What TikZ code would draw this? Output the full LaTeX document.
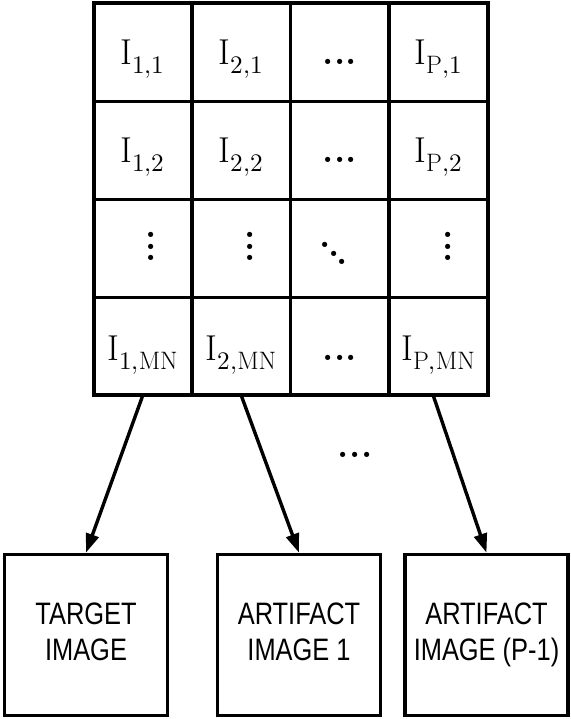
\documentclass[tikz,border=0pt]{standalone}
\usepackage{fontspec}
\usepackage{unicode-math}
\usepackage{tikz}
\usetikzlibrary{arrows.meta, shapes, positioning}
\newfontfamily\boxfont[FakeStretch=0.82]{Liberation Sans}
\newcommand{\celldots}{{\bfseries.\kern0.5pt.\kern0.5pt.}}
\newcommand{\cellvdots}{\vbox{\bfseries\baselineskip=11.5pt \lineskiplimit=0pt \hbox{.}\hbox{.}\hbox{.}}}
\newcommand{\cellddots}{{\bfseries\raisebox{13pt}{.}\kern-3pt\raisebox{4.5pt}{.}\kern-3pt\raisebox{-4pt}{.}}}
\tikzset{gridcell/.style={rectangle, draw=black, line width=3.2pt, minimum width=98.5pt, minimum height=98pt, inner sep=0pt, outer sep=0pt},imagebox/.style={rectangle, draw=black, line width=3.6pt, minimum width=163pt, minimum height=161pt, inner sep=0pt, align=center, font=\boxfont\fontsize{31}{36}\selectfont}}

\begin{document}
\begin{tikzpicture}[
        x=1pt, y=1pt,
        line join=miter,
        celllabel/.style={anchor=base, inner sep=0pt, font=\fontsize{36}{40}\selectfont},
        maparrow/.style={-{Triangle[length=19pt, width=13pt]}, line width=3.4pt}
    ]
        \useasboundingbox (0,0) rectangle (570,719);
        % Grid
        \foreach \i in {1,...,4} {
            \foreach \j in {1,...,4} {
                \node[gridcell] (c-\i-\j) at ({93.5+98.5*(\i-0.5)}, {715.5-98*(\j-0.5)}) {};
            }
        }
        \draw[line width=4pt] (c-1-1.north west) rectangle (c-4-4.south east);
        % Cell labels
        \foreach \i/\j/\txt/\dx/\dy in {
            1/1/{$\mathrm{I}_{1,1}$}/0/0,
            2/1/{$\mathrm{I}_{2,1}$}/0/0,
            3/1/{\celldots}/0/0,
            4/1/{$\mathrm{I}_{\mathrm{P},1}$}/0/0,
            1/2/{$\mathrm{I}_{1,2}$}/0/0,
            2/2/{$\mathrm{I}_{2,2}$}/0/0,
            3/2/{\celldots}/0/0,
            4/2/{$\mathrm{I}_{\mathrm{P},2}$}/0/0,
            1/3/{\cellvdots}/8.5/0,
            2/3/{\cellvdots}/8.5/0,
            3/3/{\cellddots}/-6/0,
            4/3/{\cellvdots}/9.5/0,
            1/4/{$\mathrm{I}_{1,\mathrm{MN}}$}/0/-1.5,
            2/4/{$\mathrm{I}_{2,\mathrm{MN}}$}/0/-1.5,
            3/4/{\celldots}/0/-1.5,
            4/4/{$\mathrm{I}_{\mathrm{P},\mathrm{MN}}$}/0/-1.5} {
            \node[celllabel] (lbl-\i-\j) at ([xshift=\dx pt, yshift={\dy pt-12.5pt}]c-\i-\j.center) {\txt};
        }
        % Images
        \node[imagebox] (target) at (86, 84) {TARGET\strut\\IMAGE\strut};
        \node[imagebox] (artifactone) at (299, 84) {ARTIFACT\strut\\IMAGE 1\strut};
        \node[imagebox] (artifactlast) at (486.5, 84) {ARTIFACT\strut\\IMAGE (P-1)\strut};
        % Arrows
        \draw[maparrow] (c-1-4.south) -- (target.north);
        \draw[maparrow] (c-2-4.south) -- (artifactone.north);
        \draw[maparrow] ([xshift=-5pt]c-4-4.south) -- (artifactlast.north);
        \node[celllabel] (middots) at (355, 261) {\celldots};
    \end{tikzpicture}
\end{document}
